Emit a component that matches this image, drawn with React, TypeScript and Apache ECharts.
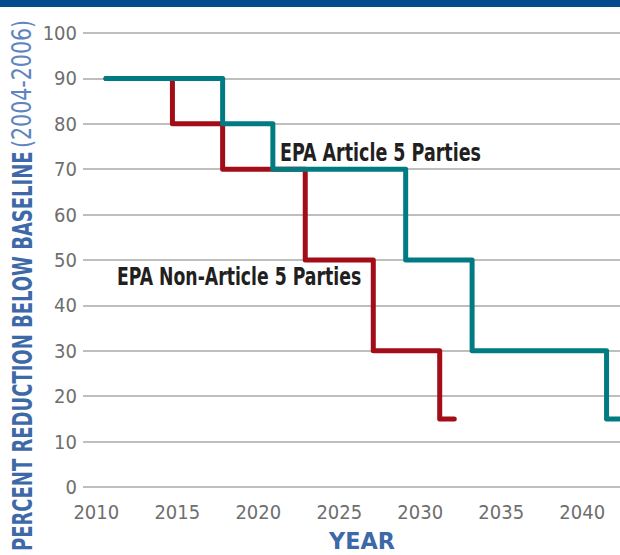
import React, { useEffect, useRef } from "react";
import * as echarts from "echarts";

// Year ticks shown on the x axis
const yearTicks = [2010, 2015, 2020, 2025, 2030, 2035, 2040];
// Step points [year, percent of baseline]
const nonArticle5 = [
  [2010.6, 90],
  [2014.7, 80],
  [2017.8, 70],
  [2022.9, 50],
  [2027.1, 30],
  [2031.2, 15],
  [2032.1, 15],
];
const article5 = [
  [2010.6, 90],
  [2017.8, 80],
  [2020.9, 70],
  [2029.1, 50],
  [2033.2, 30],
  [2041.5, 15],
  [2042.3, 15],
];
const X_MIN = 2009.18;
const X_MAX = 2042.33;

const NARROW = "'DejaVu Sans Condensed', 'DejaVu Sans', sans-serif";

export default function App() {
  const ref = useRef<HTMLDivElement>(null);
  useEffect(() => {
    if (!ref.current) return;
    const chart = echarts.init(ref.current, undefined, { renderer: "svg" });
    chart.setOption({
      animation: false,
      grid: { left: 83, right: 0, top: 33, bottom: 68, containLabel: false },
      xAxis: {
        type: "value",
        min: X_MIN,
        max: X_MAX,
        axisLine: { show: false },
        axisTick: { show: false },
        splitLine: { show: false },
        axisLabel: {
          customValues: yearTicks,
          margin: 15,
          color: "#6e6e6e",
          fontSize: 20,
          fontFamily: NARROW,
          formatter: (v: number) => String(Math.round(v)),
        },
      },
      yAxis: {
        type: "value",
        min: 0,
        max: 100,
        interval: 10,
        axisLine: { show: false },
        axisTick: { show: false },
        axisLabel: {
          margin: 6,
          color: "#6e6e6e",
          fontSize: 20,
          fontFamily: NARROW,
        },
        splitLine: { lineStyle: { color: "#a9a9a9", width: 1.5 } },
      },
      series: [
        {
          name: "EPA Non-Article 5 Parties",
          type: "line",
          step: "end",
          data: nonArticle5,
          symbol: "none",
          lineStyle: { color: "#a30d17", width: 5, cap: "round", join: "round" },
          z: 3,
        },
        {
          name: "EPA Article 5 Parties",
          type: "line",
          step: "end",
          data: article5,
          symbol: "none",
          lineStyle: { color: "#007b82", width: 5, cap: "round", join: "round" },
          z: 4,
        },
      ],
      graphic: [
        {
          type: "text",
          x: 22,
          y: 551,
          rotation: Math.PI / 2,
          scaleX: 0.77,
          style: {
            text: "PERCENT REDUCTION BELOW BASELINE",
            align: "left",
            verticalAlign: "middle",
            fontFamily: NARROW,
            fontWeight: "bold",
            fontSize: 26,
            fill: "#3d69a8",
          },
          z: 10,
        },
        {
          type: "text",
          x: 22,
          y: 148,
          rotation: Math.PI / 2,
          scaleX: 0.88,
          style: {
            text: "(2004-2006)",
            align: "left",
            verticalAlign: "middle",
            fontFamily: NARROW,
            fontWeight: "normal",
            fontSize: 26,
            fill: "#5f84c0",
          },
          z: 10,
        },
        {
          type: "text",
          x: 362,
          y: 541,
          scaleX: 1.08,
          style: {
            text: "YEAR",
            align: "center",
            verticalAlign: "middle",
            fontFamily: NARROW,
            fontWeight: "bold",
            fontSize: 23,
            fill: "#3d69a8",
          },
          z: 10,
        },
        {
          type: "text",
          x: 280,
          y: 153,
          scaleX: 0.81,
          style: {
            text: "EPA Article 5 Parties",
            align: "left",
            verticalAlign: "middle",
            fontFamily: NARROW,
            fontWeight: "bold",
            fontSize: 24,
            fill: "#231f20",
          },
          z: 10,
        },
        {
          type: "text",
          x: 117,
          y: 276.5,
          scaleX: 0.8,
          style: {
            text: "EPA Non-Article 5 Parties",
            align: "left",
            verticalAlign: "middle",
            fontFamily: NARROW,
            fontWeight: "bold",
            fontSize: 24,
            fill: "#231f20",
          },
          z: 10,
        },
        {
          type: "rect",
          shape: { x: 0, y: 0, width: 620, height: 7 },
          style: { fill: "#034b8e" },
          z: 20,
        },
      ],
    });
    return () => chart.dispose();
  }, []);
  return (
    <div
      ref={ref}
      style={{ position: "fixed", left: 0, top: 0, width: 620, height: 555, background: "#fff" }}
    />
  );
}
